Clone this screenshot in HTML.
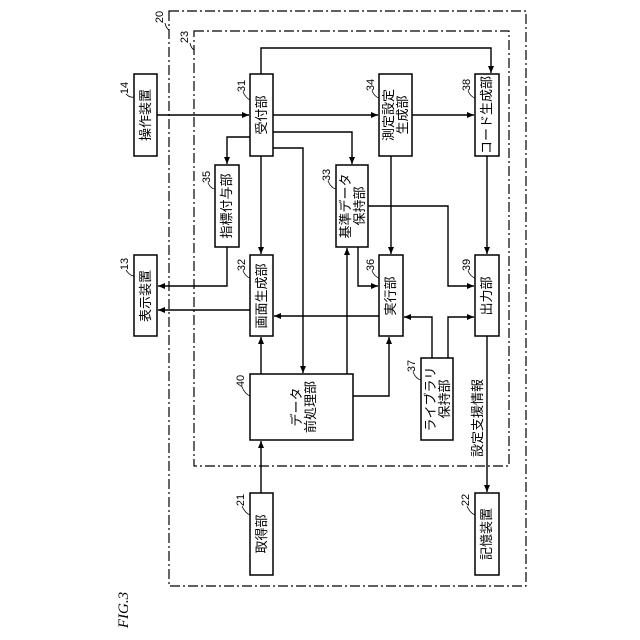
<!DOCTYPE html>
<html><head><meta charset="utf-8"><style>
html,body{margin:0;padding:0;background:#fff;}
svg{display:block;}
text{font-family:"Liberation Sans","Noto Sans CJK JP",sans-serif;fill:#000;}
</style></head><body>
<svg width="640" height="640" viewBox="0 0 640 640" xmlns="http://www.w3.org/2000/svg">
<defs>
<marker id="a" markerWidth="8" markerHeight="8" refX="7" refY="4" orient="auto" markerUnits="userSpaceOnUse">
<path d="M0,1 L7,4 L0,7 Z" fill="#000"/></marker>
</defs>
<rect width="640" height="640" fill="#fff"/>
<g fill="none" stroke="#000" stroke-width="1.2" stroke-dasharray="10,3,2,3">
<rect x="169" y="11" width="357" height="575"/>
<rect x="194" y="31" width="315" height="435"/>
</g>
<g fill="#fff" stroke="#000" stroke-width="1.5">
<rect x="134" y="74" width="23" height="82"/>
<rect x="134" y="255" width="23" height="81"/>
<rect x="250" y="74" width="23" height="82"/>
<rect x="250" y="255" width="23" height="81"/>
<rect x="215" y="165" width="24" height="82"/>
<rect x="336" y="165" width="32" height="82"/>
<rect x="379" y="74" width="33" height="82"/>
<rect x="379" y="255" width="24" height="81"/>
<rect x="475" y="74" width="24" height="82"/>
<rect x="475" y="255" width="24" height="81"/>
<rect x="250" y="374" width="103" height="66"/>
<rect x="421" y="358" width="32" height="82"/>
<rect x="250" y="493" width="23" height="82"/>
<rect x="475" y="493" width="24" height="82"/>
</g>
<g fill="none" stroke="#000" stroke-width="1.4">
<path d="M157,115 H249" marker-end="url(#a)"/>
<path d="M273,115 H378" marker-end="url(#a)"/>
<path d="M412,115 H474" marker-end="url(#a)"/>
<path d="M261,74 V48 H491 V73" marker-end="url(#a)"/>
<path d="M250,137 H227 V164" marker-end="url(#a)"/>
<path d="M273,132 H352 V164" marker-end="url(#a)"/>
<path d="M273,148 H303 V373" marker-end="url(#a)"/>
<path d="M261,156 V254" marker-end="url(#a)"/>
<path d="M227,247 V286 H158" marker-end="url(#a)"/>
<path d="M250,310 H158" marker-end="url(#a)"/>
<path d="M391,156 V254" marker-end="url(#a)"/>
<path d="M487,156 V254" marker-end="url(#a)"/>
<path d="M358,247 V286 H378" marker-end="url(#a)"/>
<path d="M368,206 H448 V286 H474" marker-end="url(#a)"/>
<path d="M347,374 V248" marker-end="url(#a)"/>
<path d="M379,316 H274" marker-end="url(#a)"/>
<path d="M432,358 V317 H404" marker-end="url(#a)"/>
<path d="M448,358 V317 H474" marker-end="url(#a)"/>
<path d="M261,374 V337" marker-end="url(#a)"/>
<path d="M353,396 H389 V337" marker-end="url(#a)"/>
<path d="M261,493 V441" marker-end="url(#a)"/>
<path d="M487,336 V492" marker-end="url(#a)"/>
</g>
<g font-size="13" text-anchor="middle">
<text transform="translate(150,115) rotate(-90)">操作装置</text>
<text transform="translate(150,296) rotate(-90)">表示装置</text>
<text transform="translate(266,115) rotate(-90)">受付部</text>
<text transform="translate(266,296) rotate(-90)">画面生成部</text>
<text transform="translate(231,206) rotate(-90)">指標付与部</text>
<text transform="translate(350,206) rotate(-90)">基準データ</text>
<text transform="translate(364,206) rotate(-90)">保持部</text>
<text transform="translate(393,115) rotate(-90)">測定設定</text>
<text transform="translate(407,115) rotate(-90)">生成部</text>
<text transform="translate(395,296) rotate(-90)">実行部</text>
<text transform="translate(491,115) rotate(-90)">コード生成部</text>
<text transform="translate(491,296) rotate(-90)">出力部</text>
<text transform="translate(301,407) rotate(-90)">データ</text>
<text transform="translate(315,407) rotate(-90)">前処理部</text>
<text transform="translate(435,399) rotate(-90)">ライブラリ</text>
<text transform="translate(449,399) rotate(-90)">保持部</text>
<text transform="translate(266,534) rotate(-90)">取得部</text>
<text transform="translate(491,534) rotate(-90)">記憶装置</text>
<text transform="translate(482,418) rotate(-90)">設定支援情報</text>
</g>
<g font-size="11" text-anchor="middle">
<text transform="translate(128,88) rotate(-90)">14</text>
<text transform="translate(128,264) rotate(-90)">13</text>
<text transform="translate(245,86) rotate(-90)">31</text>
<text transform="translate(245,265) rotate(-90)">32</text>
<text transform="translate(210,177) rotate(-90)">35</text>
<text transform="translate(330,175) rotate(-90)">33</text>
<text transform="translate(374,85) rotate(-90)">34</text>
<text transform="translate(374,265) rotate(-90)">36</text>
<text transform="translate(470,85) rotate(-90)">38</text>
<text transform="translate(470,265) rotate(-90)">39</text>
<text transform="translate(244,381) rotate(-90)">40</text>
<text transform="translate(415,366) rotate(-90)">37</text>
<text transform="translate(244,500) rotate(-90)">21</text>
<text transform="translate(469,500) rotate(-90)">22</text>
<text transform="translate(163,17) rotate(-90)">20</text>
<text transform="translate(188,37) rotate(-90)">23</text>
<text transform="translate(128,610) rotate(-90)" style="font-family:'Liberation Serif',serif;font-style:italic;font-size:15px;">FIG.3</text>
</g>
<g fill="none" stroke="#000" stroke-width="0.8">
<path d="M126,94 Q130,98 134,97"/><path d="M126,270 Q130,276 134,276"/>
<path d="M243,92 Q246,98 250,100"/><path d="M243,271 Q246,277 250,278"/>
<path d="M208,183 Q211,189 215,189"/><path d="M328,181 Q331,188 336,189"/>
<path d="M372,91 Q375,97 379,98"/><path d="M372,271 Q375,277 379,278"/>
<path d="M468,91 Q471,97 475,98"/><path d="M468,271 Q471,277 475,278"/>
<path d="M242,387 Q245,394 250,396"/><path d="M413,372 Q416,379 421,380"/>
<path d="M242,506 Q245,513 250,515"/><path d="M467,506 Q470,513 475,515"/>
<path d="M165,23 Q166,28 169,30"/><path d="M190,43 Q191,48 194,50"/>
</g>
</svg>
</body></html>
